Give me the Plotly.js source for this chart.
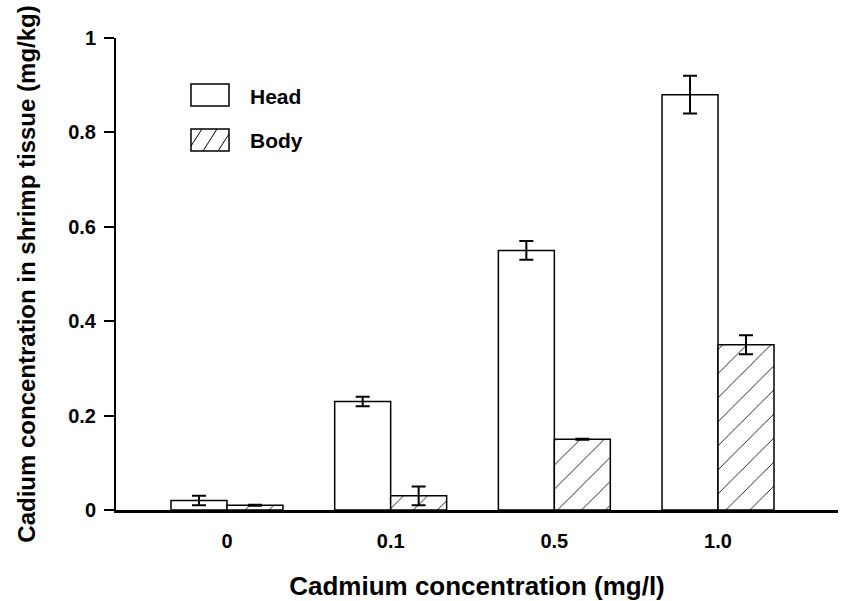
<!DOCTYPE html>
<html>
<head>
<meta charset="utf-8">
<script src="https://cdn.plot.ly/plotly-3.0.1.min.js"></script>
<style>html,body{margin:0;padding:0;background:#fff;}#chart{width:861px;height:601px;}</style>
</head>
<body>
<div id="chart"></div>
<script>
var categories = ['0', '0.1', '0.5', '1.0'];
var headValues = [0.02, 0.23, 0.55, 0.88];
var headErrors = [0.01, 0.01, 0.02, 0.04];
var bodyValues = [0.01, 0.03, 0.15, 0.35];
var bodyErrors = [0.001, 0.02, 0.001, 0.02];
var seriesNames = ['Head', 'Body'];

var FONT = 'Liberation Sans';
var W = 861, H = 601, L = 116, R = 23, T = 38, B = 91;
function px(x) { return (x - L) / (W - L - R); }
function py(y) { return (H - B - y) / (H - T - B); }

var head = {
  type: 'bar', name: seriesNames[0], x: categories, y: headValues,
  marker: {color: 'white', line: {color: 'black', width: 1.5}},
  error_y: {type: 'data', array: headErrors, visible: true, color: 'black', thickness: 2, width: 7},
  showlegend: false
};
var body = {
  type: 'bar', name: seriesNames[1], x: categories, y: bodyValues,
  marker: {color: 'white', line: {color: 'black', width: 1.5},
    pattern: {shape: '/', fgcolor: 'black', bgcolor: 'white', size: 17, solidity: 0.05}},
  error_y: {type: 'data', array: bodyErrors, visible: true, color: 'black', thickness: 2, width: 7},
  showlegend: false
};

function rect(x0, y0, x1, y1) {
  return {type: 'rect', xref: 'paper', yref: 'paper', x0: px(x0), x1: px(x1), y0: py(y0), y1: py(y1),
    line: {color: 'black', width: 1.5}, fillcolor: 'white'};
}
function seg(x0, y0, x1, y1) {
  return {type: 'line', xref: 'paper', yref: 'paper', x0: px(x0), x1: px(x1), y0: py(y0), y1: py(y1),
    line: {color: 'black', width: 1}};
}

var layout = {
  width: W, height: H,
  margin: {l: L, r: R, t: T, b: B, autoexpand: false},
  paper_bgcolor: 'white', plot_bgcolor: 'white',
  font: {family: FONT, color: 'black', size: 20, weight: 700},
  barmode: 'group', bargap: 0.316, bargroupgap: 0,
  xaxis: {
    type: 'category', range: [-0.678, 3.733], automargin: false,
    showline: true, linecolor: 'black', linewidth: 3,
    ticks: '', showgrid: false, zeroline: false,
    ticklabelstandoff: 11,
    tickfont: {family: FONT, size: 20, weight: 700, color: 'black'},
    title: {text: 'Cadmium concentration (mg/l)', font: {family: FONT, size: 26, weight: 700}, standoff: 31}
  },
  yaxis: {
    range: [0, 1], tickvals: [0, 0.2, 0.4, 0.6, 0.8, 1], ticktext: ['0', '0.2', '0.4', '0.6', '0.8', '1'],
    automargin: false,
    showline: true, linecolor: 'black', linewidth: 2,
    ticks: 'outside', ticklen: 10, tickwidth: 2, tickcolor: 'black',
    ticklabelstandoff: 4,
    showgrid: false, zeroline: false,
    tickfont: {family: FONT, size: 20, weight: 700, color: 'black'},
    title: {text: 'Cadium concentration in shrimp tissue (mg/kg)', font: {family: FONT, size: 24, weight: 700}, standoff: 26}
  },
  shapes: [
    rect(191, 84, 229, 106),
    rect(191, 129, 229, 151),
    seg(191, 146, 202, 129),
    seg(203, 151, 217, 129),
    seg(218, 151, 229, 134)
  ],
  annotations: [
    {xref: 'paper', yref: 'paper', x: px(248), y: py(96), xanchor: 'left', yanchor: 'middle', showarrow: false,
     text: seriesNames[0], font: {family: FONT, size: 21, weight: 700}},
    {xref: 'paper', yref: 'paper', x: px(248), y: py(140), xanchor: 'left', yanchor: 'middle', showarrow: false,
     text: seriesNames[1], font: {family: FONT, size: 21, weight: 700}}
  ]
};

Plotly.newPlot('chart', [head, body], layout, {displayModeBar: false, staticPlot: true});
</script>
</body>
</html>
